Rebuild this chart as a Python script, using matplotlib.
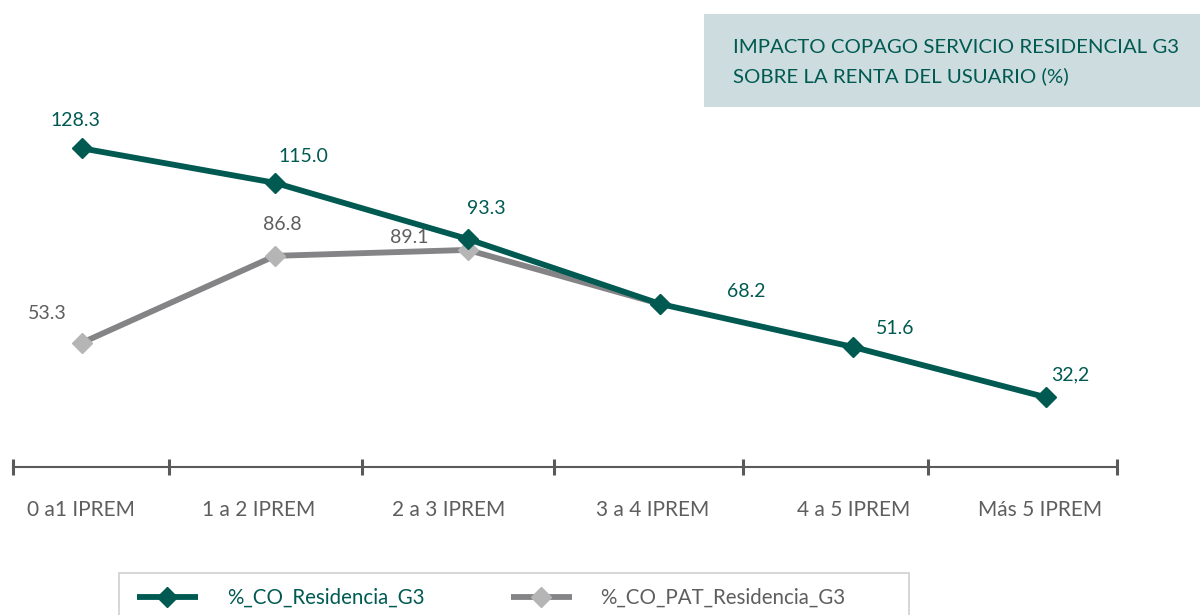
import numpy as np
import matplotlib.pyplot as plt
from matplotlib.patches import Rectangle

plt.rcParams['font.family'] = ['Lato', 'DejaVu Sans']

# ---- data ----
categories = ['0 a1 IPREM', '1 a 2 IPREM', '2 a 3 IPREM', '3 a 4 IPREM', '4 a 5 IPREM', 'Más 5 IPREM']
co_res = [128.3, 115.0, 93.3, 68.2, 51.6, 32.2]
co_res_labels = ['128.3', '115.0', '93.3', '68.2', '51.6', '32,2']
co_pat = [53.3, 86.8, 89.1, 68.2]
co_pat_labels = ['53.3', '86.8', '89.1', None]

GREEN = '#005a52'
GREY_LINE = '#848487'
GREY_MK = '#b5b5b5'
TXT_GREY = '#5e5e5e'

fig = plt.figure(figsize=(12, 6.15), dpi=100)
ax = fig.add_axes([13 / 1200, 1 - 467 / 615, 1104 / 1200, 367 / 615])

x = np.arange(len(categories))
l2, = ax.plot(x[:len(co_pat)], co_pat, color=GREY_LINE, lw=4.2, marker='D',
              ms=10, mfc=GREY_MK, mec=GREY_MK, solid_capstyle='butt', zorder=2)
l1, = ax.plot(x, co_res, color=GREEN, lw=4.2, marker='D', ms=10,
              mfc=GREEN, mec=GREEN, solid_capstyle='butt', zorder=3)

# label offsets in pixels (dx, dy)
res_off = [(-7, 28), (28, 26), (19, 31), (86, 13), (42, 18), (25, 22)]
pat_off = [(-35, 29), (7, 31), (-58, 12)]
for xi, v, s, o in zip(x, co_res, co_res_labels, res_off):
    ax.annotate(s, (xi, v), xytext=o, textcoords='offset pixels',
                ha='center', va='center', color=GREEN, fontsize=14)
for xi, v, s, o in zip(x, co_pat, co_pat_labels, pat_off):
    if s:
        ax.annotate(s, (xi, v), xytext=o, textcoords='offset pixels',
                    ha='center', va='center', color=TXT_GREY, fontsize=14)

ax.set_xlim(-0.36, 5.37)
ax.set_ylim(5.25, 147)
for s in ['top', 'right', 'left']:
    ax.spines[s].set_visible(False)
ax.spines['bottom'].set_color('#5a5a5a')
ax.spines['bottom'].set_linewidth(1.5)
ax.set_yticks([])

# boundary ticks on the category axis
ax.set_xticks([-0.36, 0.45, 1.45, 2.45, 3.43, 4.39, 5.37])
ax.tick_params(axis='x', length=11, width=2.2, color='#5a5a5a', direction='inout',
               labelbottom=False)
cat_dx = [-1, -16, -19, -8, 1, -6]
for xi, c, dx in zip(x, categories, cat_dx):
    ax.annotate(c, (xi, 0), xycoords=('data', 'axes fraction'), xytext=(dx, -43),
                textcoords='offset pixels', ha='center', va='center',
                color=TXT_GREY, fontsize=15)

# title box
fig.add_artist(Rectangle((704 / 1200, 1 - 107 / 615), 496 / 1200, 93 / 615,
                         transform=fig.transFigure, facecolor='#cddcdf', edgecolor='none'))
fig.text(733 / 1200, 1 - 62 / 615, 'IMPACTO COPAGO SERVICIO RESIDENCIAL G3\nSOBRE LA RENTA DEL USUARIO (%)',
         color=GREEN, fontsize=14.7, ha='left', va='center', linespacing=1.78)

# legend (frame drawn separately, cut by the bottom edge as in the original)
fig.add_artist(Rectangle((119 / 1200, -0.02), 790 / 1200, (615 - 573) / 615 + 0.02,
                         transform=fig.transFigure, facecolor='none',
                         edgecolor='#d0d0d0', lw=1.2))
leg = fig.legend([l1, l2], ['%_CO_Residencia_G3', '%_CO_PAT_Residencia_G3'],
                 ncol=2, loc='center left', bbox_to_anchor=(137 / 1200, 1 - 598 / 615),
                 frameon=False, fontsize=14.8, handlelength=2.96,
                 handletextpad=1.41, columnspacing=4.2, borderpad=0, borderaxespad=0)
leg.get_texts()[0].set_color(GREEN)
leg.get_texts()[1].set_color(TXT_GREY)

fig.savefig('out.png', dpi=100, facecolor='white')
